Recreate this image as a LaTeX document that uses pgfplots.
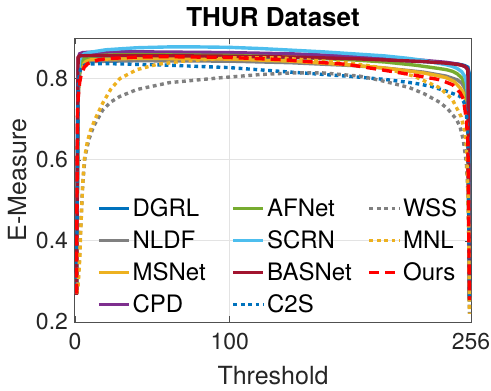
\documentclass[border=0pt]{standalone}
\usepackage{fontspec}
\setmainfont{TeX Gyre Heros}
\usepackage{pgfplots}
\pgfplotsset{compat=1.18}
\definecolor{mblue}{HTML}{0072BD}
\definecolor{mgray}{HTML}{808080}
\definecolor{morange}{HTML}{EDB120}
\definecolor{mpurple}{HTML}{7E2F8E}
\definecolor{mgreen}{HTML}{77AC30}
\definecolor{mcyan}{HTML}{4DBEEE}
\definecolor{mred}{HTML}{A2142F}
\definecolor{tickgray}{HTML}{262626}
\definecolor{gridgray}{HTML}{E3E3E3}
\definecolor{axisgray}{HTML}{505050}

\begin{document}
\begin{tikzpicture}
\begin{axis}[
  at={(0,0)}, anchor=south west,
  width=198pt, height=142pt, scale only axis,
  xmin=0, xmax=256, ymin=0.2, ymax=0.9,
  xtick={0,100,256}, ytick={0.2,0.4,0.6,0.8},
  /pgf/number format/assume math mode=true,
  tick label style={font=\fontsize{11.5}{12}\selectfont, text=tickgray},
  xticklabel style={yshift=-2pt},
  tick align=inside, major tick length=3pt,
  xmajorgrids, ymajorgrids, grid style={gridgray, line width=0.5pt},
  axis line style={axisgray, line width=0.5pt},
  major tick style={axisgray},
  xlabel={Threshold}, ylabel={E-Measure},
  label style={font=\fontsize{12.5}{14}\selectfont, text=tickgray},
  xlabel style={at={(axis description cs:0.5,-0.187)}, anchor=center},
  ylabel style={at={(axis description cs:-0.146,0.5)}, anchor=center},
  title={\bfseries THUR Dataset},
  every axis title shift=0pt,
  title style={font=\fontsize{13}{15}\selectfont, at={(axis description cs:0.5,1.074)}, anchor=center},
  legend columns=4, transpose legend,
  legend cell align=left,
  legend style={draw=none, fill=none, at={(axis description cs:0.055,0.45)}, anchor=north west,
    inner sep=0pt, font=\fontsize{12}{14}\selectfont,
    nodes={inner sep=1pt, text height=10pt, text depth=2pt}, row sep=2pt,
    /tikz/column 2/.style={column sep=12pt}, /tikz/column 4/.style={column sep=7pt}},
  legend image code/.code={\draw[#1] (0pt,0pt) -- (15pt,0pt);},
  every axis plot/.append style={line width=1.7pt},
  mdot/.style={dash pattern=on 1.9pt off 1.8pt},
]
% DGRL
\addplot[mblue] coordinates {(1,0.27)(2,0.82)(3,0.845)(4,0.851)(6,0.854)(10,0.855)(40,0.856)(100,0.854)(140,0.852)(180,0.848)(200,0.846)(225,0.842)(240,0.838)(247,0.836)(250,0.834)(252,0.832)(253,0.830)(254,0.828)(255,0.81)(255.4,0.25)};
% NLDF
\addplot[mgray] coordinates {(1,0.27)(2,0.75)(3,0.81)(4,0.83)(6,0.838)(10,0.842)(40,0.844)(100,0.843)(140,0.839)(180,0.832)(200,0.826)(225,0.816)(240,0.806)(247,0.797)(250,0.789)(252,0.776)(253,0.76)(254,0.72)(255,0.25)};
% MSNet
\addplot[morange] coordinates {(1,0.27)(2,0.76)(3,0.815)(4,0.835)(6,0.843)(10,0.847)(40,0.85)(100,0.848)(140,0.843)(180,0.833)(200,0.826)(215,0.819)(225,0.814)(236,0.806)(240,0.802)(245,0.793)(249,0.777)(251,0.765)(252,0.755)(253,0.735)(254,0.69)(255,0.25)};
% CPD
\addplot[mpurple] coordinates {(1,0.27)(2,0.85)(3,0.861)(5,0.864)(10,0.865)(40,0.866)(100,0.864)(140,0.861)(180,0.855)(200,0.851)(225,0.845)(240,0.840)(247,0.836)(250,0.833)(252,0.830)(253,0.827)(254,0.82)(255,0.25)};
% AFNet
\addplot[mgreen] coordinates {(1,0.27)(2,0.78)(3,0.83)(4,0.843)(6,0.85)(10,0.855)(20,0.858)(40,0.859)(100,0.857)(140,0.853)(180,0.846)(200,0.841)(220,0.833)(235,0.825)(240,0.822)(244,0.818)(247,0.812)(250,0.802)(252,0.786)(253,0.77)(254,0.73)(255,0.25)};
% SCRN
\addplot[mcyan] coordinates {(1,0.27)(2,0.80)(3,0.845)(4,0.855)(6,0.861)(10,0.865)(20,0.871)(40,0.876)(60,0.878)(80,0.878)(100,0.877)(120,0.874)(140,0.870)(160,0.866)(180,0.861)(200,0.856)(215,0.850)(225,0.845)(236,0.837)(240,0.834)(244,0.830)(247,0.825)(250,0.817)(252,0.805)(253,0.79)(254,0.75)(255,0.25)};
% BASNet
\addplot[mred] coordinates {(1,0.267)(2,0.852)(3,0.856)(10,0.857)(40,0.857)(100,0.855)(140,0.853)(180,0.849)(200,0.846)(225,0.842)(240,0.838)(247,0.835)(250,0.833)(252,0.830)(253,0.827)(254,0.822)(255,0.26)};
% C2S
\addplot[mblue, mdot] coordinates {(1,0.27)(2,0.78)(3,0.815)(4,0.827)(6,0.833)(10,0.836)(20,0.837)(40,0.835)(60,0.833)(100,0.827)(132,0.818)(176,0.806)(200,0.798)(219,0.789)(230,0.781)(240,0.769)(245,0.762)(249,0.756)(251,0.745)(252,0.735)(253,0.715)(254,0.66)(255,0.26)};
% WSS
\addplot[mgray, mdot] coordinates {(1,0.27)(2,0.30)(3,0.37)(4,0.46)(5,0.54)(6.5,0.608)(9,0.65)(12,0.682)(18,0.723)(23,0.742)(29,0.756)(40,0.773)(61,0.79)(94,0.802)(120,0.81)(141,0.814)(160,0.814)(184,0.806)(197,0.796)(216,0.778)(226,0.762)(236,0.741)(241,0.725)(246.7,0.699)(249,0.68)(251,0.649)(253,0.592)(254,0.52)(254.6,0.40)(255,0.22)};
% MNL
\addplot[morange, mdot] coordinates {(1,0.27)(2,0.29)(3,0.35)(4,0.45)(5,0.54)(6,0.60)(8,0.645)(10,0.672)(13,0.70)(18,0.74)(23,0.773)(29,0.80)(40,0.822)(53,0.835)(70,0.843)(100,0.851)(132,0.851)(176,0.839)(200,0.826)(219,0.806)(236,0.777)(244,0.748)(249.5,0.707)(252,0.67)(253,0.63)(254,0.53)(254.6,0.40)(255,0.22)};
% Ours
\addplot[red, dash pattern=on 5pt off 3pt] coordinates {(1,0.27)(1.5,0.70)(2,0.75)(3,0.79)(4,0.81)(6,0.828)(8,0.836)(10,0.84)(15,0.846)(20,0.849)(40,0.853)(60,0.854)(100,0.852)(132,0.847)(176,0.835)(204,0.818)(220,0.808)(236,0.797)(244,0.785)(249,0.765)(251,0.75)(253,0.70)(254,0.64)(255,0.254)};
\legend{DGRL,NLDF,MSNet,CPD,AFNet,SCRN,BASNet,C2S,WSS,MNL,Ours}
\end{axis}
\pgfresetboundingbox
\path (-37.5pt,-34pt) rectangle (208pt,161pt);
\end{tikzpicture}
\end{document}
